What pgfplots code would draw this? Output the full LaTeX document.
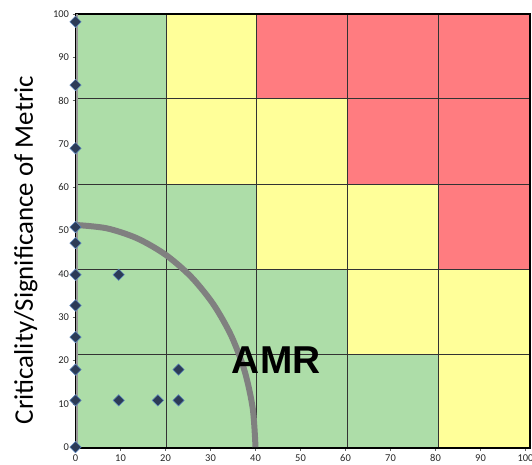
\documentclass[border=0pt]{standalone}
\usepackage{fontspec}
\setmainfont{Carlito}
\newfontfamily\arialfont{Liberation Sans}
\usepackage{pgfplots}
\pgfplotsset{compat=1.18}
\usetikzlibrary{calc}
\definecolor{cgreen}{HTML}{ADDDA8}
\definecolor{cyellow}{HTML}{FFFF99}
\definecolor{cred}{HTML}{FF7C80}
\definecolor{cnavy}{HTML}{2C3B57}
\definecolor{cedge}{HTML}{5B86C0}
\begin{document}
\begin{tikzpicture}
\begin{axis}[
  set layers,
  scale only axis, width=454.5bp, height=434bp,
  xmin=0, xmax=101, ymin=-0.2, ymax=100,
  xtick={0,10,...,100}, ytick={0,10,...,100},
  tick align=outside, major tick length=3bp,
  tick pos=left,
  tick style={black!60, line width=0.6bp},
  tick label style={font=\fontsize{10.5}{12}\selectfont, text=black!85},
  /pgf/number format/assume math mode=true,
  axis line style={black, line width=1.5bp},
  clip=false,
]
% background zones
\addplot[on layer=axis background, fill=cyellow, draw=none] coordinates {(0,-0.2) (101,-0.2) (101,100) (0,100)} \closedcycle;
\addplot[on layer=axis background, fill=cgreen, draw=none] coordinates {
 (0,-0.2) (80.7,-0.2) (80.7,21.4) (60.4,21.4) (60.4,41.1) (40.3,41.1) (40.3,60.6) (20.2,60.6) (20.2,100) (0,100)} -- cycle;
\addplot[on layer=axis background, fill=cred, draw=none] coordinates {
 (40.3,100) (40.3,80.4) (60.4,80.4) (60.4,60.6) (80.7,60.6) (80.7,41.1) (101,41.1) (101,100)} -- cycle;
% grid lines
\addplot[on layer=axis grid, black!80, line width=0.8bp] coordinates {(20.2,-0.2) (20.2,100)};
\addplot[on layer=axis grid, black!80, line width=0.8bp] coordinates {(40.3,-0.2) (40.3,100)};
\addplot[on layer=axis grid, black!80, line width=0.8bp] coordinates {(60.4,-0.2) (60.4,100)};
\addplot[on layer=axis grid, black!80, line width=0.8bp] coordinates {(80.7,-0.2) (80.7,100)};
\addplot[on layer=axis grid, black!80, line width=0.8bp] coordinates {(0,21.4) (101,21.4)};
\addplot[on layer=axis grid, black!80, line width=0.8bp] coordinates {(0,41.1) (101,41.1)};
\addplot[on layer=axis grid, black!80, line width=0.8bp] coordinates {(0,60.6) (101,60.6)};
\addplot[on layer=axis grid, black!80, line width=0.8bp] coordinates {(0,80.4) (101,80.4)};
% thin gray line at x=0
\addplot[black!40, line width=1.5bp] coordinates {(0.35,0) (0.35,100)};
% AMR arc
\addplot[black!50, line width=6bp, smooth] coordinates {
 (0,51.3) (6.95,50.52) (13.68,48.21) (20,44.43) (25.71,39.30) (30.64,32.98) (34.64,25.65) (37.59,17.55) (39.39,8.91) (40,0)};
% data points
\addplot[only marks, mark=square*, mark size=4bp, mark options={rotate=45, fill=cnavy, draw=cedge, line width=0.5bp}] coordinates {
 (0,98.2) (0,83.6) (0,69) (0,50.8) (0,47.1) (0,39.8) (0,32.7) (0,25.4) (0,17.9) (0,10.8) (0,0)
 (9.6,39.8) (9.6,10.8) (18.3,10.8) (22.9,10.8) (22.9,17.9)};
\node[anchor=base, font=\arialfont\bfseries\fontsize{39}{44}\selectfont] at (axis cs:44.6,16.9) {AMR};
\coordinate (sw) at (rel axis cs:0,0);
\coordinate (ne) at (rel axis cs:1,1);
\end{axis}
\node[rotate=90, anchor=base, font=\fontsize{27}{32}\selectfont] at ($(sw)+(-42.5bp,198bp)$) {Criticality/Significance of Metric};
\pgfresetboundingbox
\path ($(sw)+(-75.5bp,-17bp)$) rectangle ($(ne)+(2bp,14bp)$);
\end{tikzpicture}
\end{document}
